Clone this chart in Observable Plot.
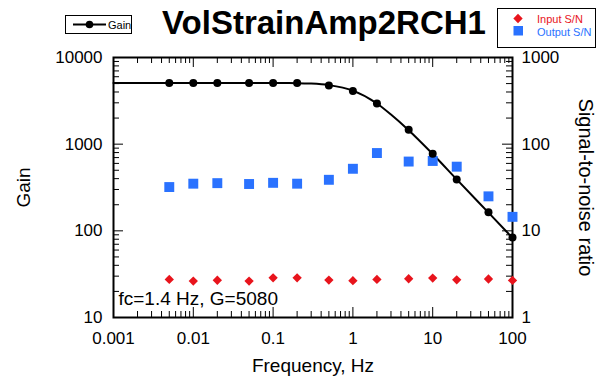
<!DOCTYPE html>
<html>
<head>
<meta charset="utf-8">
<script src="https://cdn.jsdelivr.net/npm/d3@7"></script>
<script src="https://cdn.jsdelivr.net/npm/@observablehq/plot@0.6"></script>
<style>
  html, body { margin: 0; padding: 0; background: #fff; }
  #wrap { position: relative; width: 597px; height: 380px; font-family: Arial, "Liberation Sans", sans-serif; color: #000; }
  #title { position: absolute; left: 162px; top: 7px; font-size: 33px; line-height: 32px; font-weight: bold; white-space: nowrap; }
  .leg { position: absolute; left: 0; top: 0; }
</style>
</head>
<body>
<div id="wrap">
  <div id="chart"></div>
  <div id="title">VolStrainAmp2RCH1</div>
  <svg class="leg" width="597" height="50" font-family="Arial, 'Liberation Sans', sans-serif">
    <rect x="65.5" y="15.5" width="66" height="18" fill="#fff" stroke="#000" stroke-width="1"/>
    <line x1="73" y1="24.5" x2="106" y2="24.5" stroke="#000" stroke-width="2"/>
    <circle cx="89.5" cy="24.5" r="3.8" fill="#000"/>
    <text x="108" y="28.5" font-size="11">Gain</text>
    <rect x="497.5" y="8.5" width="98" height="39" fill="#fff" stroke="#000" stroke-width="1"/>
    <path id="legDiamond" fill="#e8141c"/>
    <rect id="legSquare" fill="#2a72ff"/>
    <text x="537" y="22.5" font-size="11" fill="#e8141c">Input S/N</text>
    <text x="537" y="35.5" font-size="11" fill="#2a72ff">Output S/N</text>
  </svg>
</div>
<script>
// ---- data ----
const freq = [0.005, 0.01, 0.02, 0.05, 0.1, 0.2, 0.5, 1, 2, 5, 10, 20, 50, 100];
const gain = [5080, 5080, 5080, 5070, 5080, 5070, 4750, 4100, 2950, 1470, 775, 392, 164, 84];
const inputSN = [2.75, 2.63, 2.69, 2.63, 2.87, 2.87, 2.7, 2.66, 2.75, 2.8, 2.85, 2.72, 2.78, 2.68];
const outputSN = [32, 35, 35.5, 34.7, 35.8, 35, 38.8, 52, 79, 63, 64, 55, 25, 14.5];
const fitFreq = [0.001, 0.01, 0.1, 0.2, 0.3, 0.5, 1, 2, 3, 5, 10, 20, 50, 100];
const fitGain = [5080, 5080, 5078, 5060, 5000, 4800, 4150, 2950, 2200, 1450, 770, 392, 162, 83];
const xTicks = [0.001, 0.01, 0.1, 1, 10, 100];
const xTickLabels = ["0.001", "0.01", "0.1", "1", "10", "100"];
const yTicks = [10, 100, 1000, 10000];
const yLeftLabels = ["10", "100", "1000", "10000"];
const yRightLabels = ["1", "10", "100", "1000"];
const annotation = "fc=1.4 Hz, G=5080";
const snScale = 10; // right axis (S/N 1..1000) shares the left axis (Gain 10..10000)

const red = "#e8141c", blue = "#2a72ff";

const pts = freq.map((f, i) => ({f, gain: gain[i], inSN: inputSN[i], outSN: outputSN[i]}));
const fit = fitFreq.map((f, i) => ({f, g: fitGain[i]}));

// minor tick positions (2..9 per decade)
const xMinor = d3.range(-3, 2).flatMap(e => d3.range(2, 10).map(m => m * Math.pow(10, e)));
const yMinor = d3.range(1, 4).flatMap(e => d3.range(2, 10).map(m => m * Math.pow(10, e)));

const W = 597, H = 380, ML = 113, MR = 85, MT = 57, MB = 63;
const FW = W - ML - MR, FH = H - MT - MB;
const MAJ = 10, MIN = 6;
const font = 17;
const lookup = (ticks, labels) => d => labels[ticks.indexOf(d)];

// inward ticks on all four sides
const tickMarks = [];
for (const [vals, len] of [[xTicks, MAJ], [xMinor, MIN]]) {
  tickMarks.push(Plot.tickX(vals, {x: d => d, insetTop: FH - len, stroke: "#000"}));
  tickMarks.push(Plot.tickX(vals, {x: d => d, insetBottom: FH - len, stroke: "#000"}));
}
for (const [vals, len] of [[yTicks, MAJ], [yMinor, MIN]]) {
  tickMarks.push(Plot.tickY(vals, {y: d => d, insetRight: FW - len, stroke: "#000"}));
  tickMarks.push(Plot.tickY(vals, {y: d => d, insetLeft: FW - len, stroke: "#000"}));
}

const chart = Plot.plot({
  width: W,
  height: H,
  marginLeft: ML,
  marginRight: MR,
  marginTop: MT,
  marginBottom: MB,
  style: {fontFamily: "Arial, 'Liberation Sans', sans-serif", color: "#000", background: "transparent"},
  x: {type: "log", domain: [0.001, 100]},
  y: {type: "log", domain: [10, 10000]},
  marks: [
    ...tickMarks,
    // tick labels
    Plot.axisX(xTicks, {anchor: "bottom", tickSize: 0, tickPadding: 14, fontSize: font, tickFormat: lookup(xTicks, xTickLabels), label: null}),
    Plot.axisY(yTicks, {anchor: "left", tickSize: 0, tickPadding: 11, fontSize: font, tickFormat: lookup(yTicks, yLeftLabels), label: null}),
    Plot.axisY(yTicks, {anchor: "right", tickSize: 0, tickPadding: 9, fontSize: font, tickFormat: lookup(yTicks, yRightLabels), label: null}),
    Plot.frame({stroke: "#000", strokeWidth: 2}),
    // axis titles
    Plot.text(["Gain"], {frameAnchor: "left", dx: -90, rotate: -90, fontSize: 19, textAnchor: "middle", lineAnchor: "middle"}),
    Plot.text(["Signal-to-noise ratio"], {frameAnchor: "right", dx: 73, rotate: 90, fontSize: 20, textAnchor: "middle", lineAnchor: "middle"}),
    Plot.text(["Frequency, Hz"], {frameAnchor: "bottom", dy: 48, fontSize: 19, textAnchor: "middle", lineAnchor: "middle"}),
    Plot.text([annotation], {frameAnchor: "bottom-left", dx: 5, dy: -19, textAnchor: "start", lineAnchor: "middle", fontSize: 19}),
    // data
    Plot.line(fit, {x: "f", y: "g", curve: "monotone-x", stroke: "#000", strokeWidth: 2}),
    Plot.dot(pts, {x: "f", y: d => d.inSN * snScale, symbol: "diamond2", r: 4.2, fill: red}),
    Plot.dot(pts, {x: "f", y: d => d.outSN * snScale, symbol: "square", r: 5.6, fill: blue}),
    Plot.dot(pts, {x: "f", y: "gain", r: 4, fill: "#000"})
  ]
});
document.getElementById("chart").appendChild(chart);

// legend symbols
const dg = d3.symbol(d3.symbolDiamond2, Math.PI * 4.2 * 4.2)();
const ld = document.getElementById("legDiamond");
ld.setAttribute("d", dg);
ld.setAttribute("transform", "translate(518,18.5)");
const ls = document.getElementById("legSquare");
ls.setAttribute("x", 513.5); ls.setAttribute("y", 26); ls.setAttribute("width", 9.5); ls.setAttribute("height", 9.5);
</script>
</body>
</html>
